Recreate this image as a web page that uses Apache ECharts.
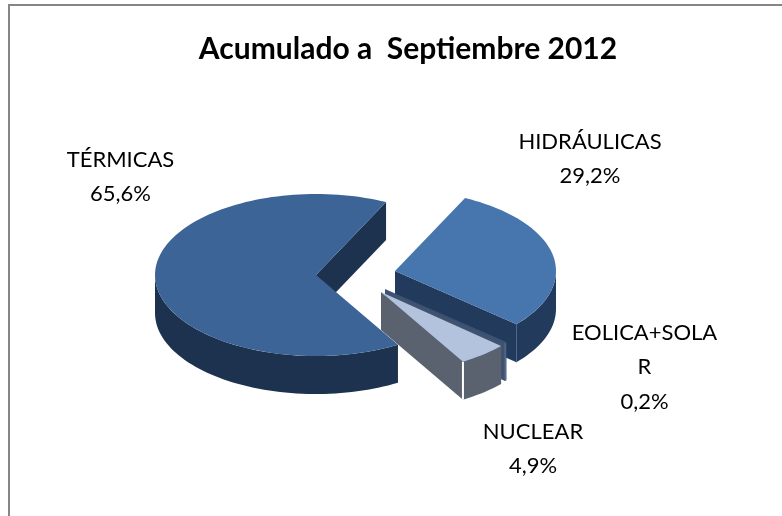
<!DOCTYPE html>
<html>
<head>
<meta charset="utf-8">
<style>
  html, body { margin: 0; padding: 0; background: #fff; }
  #chart { width: 782px; height: 516px; }
</style>
<script src="https://cdn.jsdelivr.net/npm/echarts@6/dist/echarts.min.js"></script>
</head>
<body>
<div id="chart"></div>
<script>
const categories = ['TÉRMICAS', 'HIDRÁULICAS', 'EOLICA+SOLAR', 'NUCLEAR'];
const values = [65.6, 29.2, 0.2, 4.9];
const valueLabels = ['65,6%', '29,2%', '0,2%', '4,9%'];
const sliceLabels = ['TÉRMICAS', 'HIDRÁULICAS', 'EOLICA+SOLA\nR', 'NUCLEAR'];

// drawing set-up
const cx = 316, cy = 275, rx = 161, ry = 81, depth = 38;
const startAngle = 59.4;
const explode = [[0, 0], [79, -4], [69, 14], [65, 17]];
const topColors = ['#3c6496', '#4776ae', '#3f587f', '#b3c2dd'];
const sideColors = ['#1d324f', '#223b5c', '#3f5270', '#5b626f'];
const edgeColors = ['#1d324f', '#4a6a92', '#5b7394', '#ffffff'];
const labelPos = [[120.5, 177], [590, 159], [644.5, 367], [533, 449]];

const total = values.reduce((a, b) => a + b, 0);
const rad = d => d * Math.PI / 180;

function rimPoint(ox, oy, deg, dy) {
  return [ox + rx * Math.cos(rad(deg)), oy + ry * Math.sin(rad(deg)) + (dy || 0)];
}

function arcPoints(ox, oy, a0, a1, dy) {
  const pts = [];
  const n = Math.max(2, Math.ceil((a1 - a0) / 2));
  for (let i = 0; i <= n; i++) pts.push(rimPoint(ox, oy, a0 + (a1 - a0) * i / n, dy));
  return pts;
}

function renderSlice(params, api) {
  const i = params.dataIndex;
  let before = 0;
  for (let k = 0; k < i; k++) before += values[k];
  const a0 = startAngle + before / total * 360;
  const a1 = a0 + api.value(0) / total * 360;
  const ox = cx + explode[i][0], oy = cy + explode[i][1];
  const top = { fill: topColors[i] };
  const side = { fill: sideColors[i] };
  const children = [];

  // cut face along the end edge, shows when it looks towards the viewer
  if (Math.cos(rad(a1)) > 0) {
    const e = rimPoint(ox, oy, a1);
    children.push({ type: 'polygon', shape: { points: [[ox, oy], e, [e[0], e[1] + depth], [ox, oy + depth]] }, style: side });
  }
  if (Math.cos(rad(a0)) < 0) {
    const e = rimPoint(ox, oy, a0);
    children.push({ type: 'polygon', shape: { points: [[ox, oy], e, [e[0], e[1] + depth], [ox, oy + depth]] }, style: side });
  }

  // outer wall, front half of the rim only
  for (const turn of [0, 360]) {
    const w0 = Math.max(a0, turn), w1 = Math.min(a1, turn + 180);
    if (w1 > w0) {
      const pts = arcPoints(ox, oy, w0, w1).concat(arcPoints(ox, oy, w0, w1, depth).reverse());
      children.push({ type: 'polygon', shape: { points: pts }, style: side });
    }
  }

  // lit corner where the wall meets the cut face
  if (i > 0) {
    const e = rimPoint(ox, oy, a1);
    children.push({
      type: 'line',
      shape: { x1: e[0], y1: e[1], x2: e[0], y2: e[1] + depth },
      style: { stroke: edgeColors[i], lineWidth: i === 3 ? 2 : 1 }
    });
  }

  children.push({
    type: 'polygon',
    shape: { points: [[ox, oy]].concat(arcPoints(ox, oy, a0, a1)) },
    style: top
  });

  children.push({
    type: 'text',
    style: {
      x: labelPos[i][0],
      y: labelPos[i][1],
      text: sliceLabels[i] + '\n' + valueLabels[i],
      fill: '#000',
      font: '22px Lato',
      lineHeight: 34.5,
      align: 'center',
      verticalAlign: 'middle'
    }
  });

  return { type: 'group', children: children };
}

const chart = echarts.init(document.getElementById('chart'), null, { renderer: 'canvas' });
chart.setOption({
  animation: false,
  backgroundColor: '#fff',
  title: {
    text: 'Acumulado a  Septiembre 2012',
    left: 403,
    top: 29,
    textAlign: 'center',
    textStyle: { fontFamily: 'Lato', fontWeight: 'bold', fontSize: 30, color: '#000' }
  },
  // frame only runs along the top and left, the crop cuts off the rest
  graphic: [{
    type: 'polyline',
    shape: { points: [[9, 516], [9, 5], [782, 5]] },
    style: { fill: 'none', stroke: '#868686', lineWidth: 2 },
    silent: true
  }],
  series: [{
    type: 'custom',
    coordinateSystem: 'none',
    renderItem: renderSlice,
    data: categories.map((name, i) => ({ name: name, value: [values[i]] }))
  }]
});
</script>
</body>
</html>
